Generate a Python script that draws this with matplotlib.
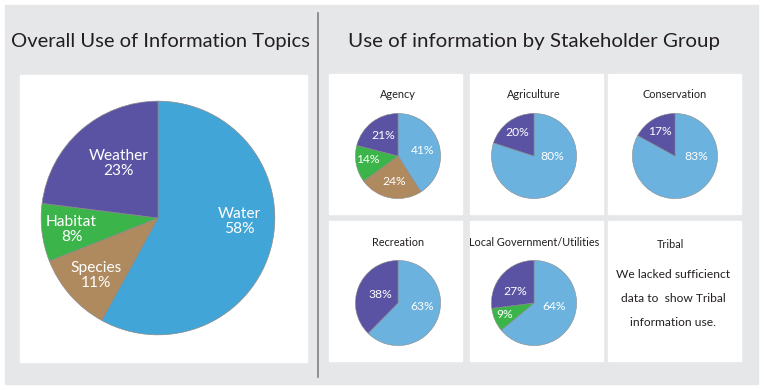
import matplotlib.pyplot as plt
from matplotlib.patches import Rectangle
import numpy as np

plt.rcParams['font.family'] = ['Lato', 'DejaVu Sans']

# Data
overall_topics = ['Water', 'Species', 'Habitat', 'Weather']
overall_values = [58, 11, 8, 23]

groups = ['Agency', 'Agriculture', 'Conservation', 'Recreation', 'Local Government/Utilities']
group_topics = [
    ['Water', 'Species', 'Habitat', 'Weather'],
    ['Water', 'Weather'],
    ['Water', 'Weather'],
    ['Water', 'Weather'],
    ['Water', 'Habitat', 'Weather'],
]
group_values = [
    [41, 24, 14, 21],
    [80, 20],
    [83, 17],
    [63, 38],
    [64, 9, 27],
]

tribal_note = ['We lacked sufficienct', 'data to  show Tribal', 'information use.']

main_colors = {'Water': '#42a5d7', 'Species': '#ae8a5e', 'Habitat': '#3bb54a', 'Weather': '#5a53a3'}
small_colors = {'Water': '#6cb2de', 'Species': '#ae8a5e', 'Habitat': '#3bb54a', 'Weather': '#5a53a3'}

# label spots inside each pie (pie radius = 1)
main_label_xy = [(0.70, -0.03), (-0.53, -0.49), (-0.74, -0.10), (-0.34, 0.47)]
small_label_xy = [
    [(0.58, 0.12), (-0.09, -0.60), (-0.70, -0.09), (-0.35, 0.49)],
    [(0.44, 0.0), (-0.40, 0.56)],
    [(0.51, -0.02), (-0.35, 0.58)],
    [(0.56, -0.09), (-0.42, 0.21)],
    [(0.47, -0.09), (-0.70, -0.28), (-0.44, 0.28)],
]

W, H = 764, 390
fig = plt.figure(figsize=(W / 100, H / 100), dpi=100)
renderer = fig.canvas.get_renderer()
bg = fig.add_axes([0, 0, 1, 1])
bg.set_xlim(0, W)
bg.set_ylim(H, 0)
bg.axis('off')
DARK = '#231f20'


def fit_size(s, width_px):
    # font size that makes the text as wide as in the original
    t = bg.text(0, 0, s, fontsize=10)
    w = t.get_window_extent(renderer).width
    t.remove()
    return 10 * width_px / w


gray = '#e6e7e9'
bg.add_patch(Rectangle((5, 5), 753, 379, color=gray, zorder=0))
bg.plot([318, 318], [13, 377], color='#808080', lw=1.2)

bg.text(160, 42, 'Overall Use of Information Topics', ha='center', va='center',
        color=DARK, fontsize=fit_size('Overall Use of Information Topics', 300))
bg.text(534, 42, 'Use of information by Stakeholder Group', ha='center', va='center',
        color=DARK, fontsize=fit_size('Use of information by Stakeholder Group', 372))

# white boxes
bg.add_patch(Rectangle((20, 75), 287, 287, color='white', zorder=1))
box_x = [329, 470, 608]
box_y = [74, 221]
for by in box_y:
    for bx in box_x:
        bg.add_patch(Rectangle((bx, by), 133, 140, color='white', zorder=1))


def pie_axes(cx, cy, r):
    return fig.add_axes([(cx - r) / W, 1 - (cy + r) / H, 2 * r / W, 2 * r / H])


def finish(ax):
    ax.set_xlim(-1.01, 1.01)
    ax.set_ylim(-1.01, 1.01)
    ax.axis('off')


# main pie
ax = pie_axes(158, 218, 118)
ax.pie(overall_values, colors=[main_colors[t] for t in overall_topics],
       startangle=90, counterclock=False, radius=1,
       wedgeprops=dict(edgecolor='#8a8a8a', linewidth=0.5))
finish(ax)
main_fs = fit_size('Weather', 60)
for (x, y), t, v in zip(main_label_xy, overall_topics, overall_values):
    ax.text(x, y, f'{t}\n{v}%', ha='center', va='center', color='white',
            fontsize=main_fs, linespacing=1.1)

# stakeholder pies
title_fs = fit_size('Local Government/Utilities', 130)
pct_fs = fit_size('41%', 24)

centers = [(398, 156), (534, 156), (675, 156), (398, 303), (534, 303)]
for (cx, cy), name, topics, vals, lxy in zip(centers, groups, group_topics, group_values, small_label_xy):
    bg.text(cx, cy - 61, name, ha='center', va='center', fontsize=title_fs, color=DARK)
    ax = pie_axes(cx, cy, 43)
    ax.pie(vals, colors=[small_colors[t] for t in topics],
           startangle=90, counterclock=False, radius=1,
           wedgeprops=dict(edgecolor='#8a8a8a', linewidth=0.4))
    finish(ax)
    for (x, y), v in zip(lxy, vals):
        ax.text(x, y, f'{v}%', ha='center', va='center', color='white', fontsize=pct_fs)

bg.text(670, 244, 'Tribal', ha='center', va='center', fontsize=title_fs, color=DARK)
note_fs = fit_size(tribal_note[0], 114)
for i, line in enumerate(tribal_note):
    bg.text(673, 275 + 24 * i, line, ha='center', va='center', fontsize=note_fs, color=DARK)

fig.savefig('out.png', dpi=100)
